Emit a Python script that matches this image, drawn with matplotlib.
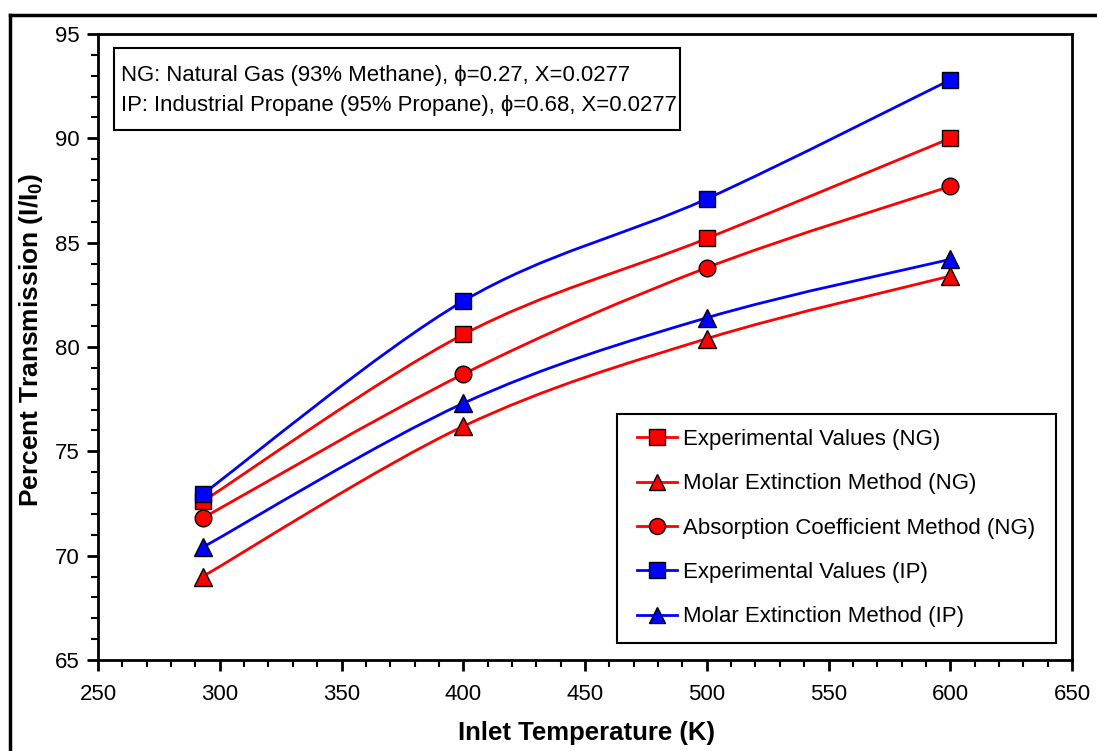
import matplotlib
matplotlib.use('Agg')
import matplotlib.pyplot as plt
from matplotlib.path import Path
from matplotlib.patches import PathPatch, Rectangle
from matplotlib.lines import Line2D
from matplotlib.ticker import MultipleLocator
import numpy as np

plt.rcParams['font.family'] = ['Liberation Sans', 'DejaVu Sans']
plt.rcParams['mathtext.fontset'] = 'custom'
plt.rcParams['mathtext.bf'] = 'Liberation Sans:bold'
plt.rcParams['mathtext.rm'] = 'Liberation Sans'

# ---- data ----
temps = [293, 400, 500, 600]
exp_ng = [72.6, 80.6, 85.2, 90.0]
molar_ng = [69.0, 76.2, 80.4, 83.4]
absorp_ng = [71.8, 78.7, 83.8, 87.7]
exp_ip = [72.95, 82.2, 87.1, 92.8]
molar_ip = [70.4, 77.3, 81.4, 84.2]

labels = ['Experimental Values (NG)', 'Molar Extinction Method (NG)',
          'Absorption Coefficient Method (NG)', 'Experimental Values (IP)',
          'Molar Extinction Method (IP)']
note_lines = ['NG: Natural Gas (93% Methane), \u03d5=0.27, X=0.0277',
              'IP: Industrial Propane (95% Propane), \u03d5=0.68, X=0.0277']

W, H = 1097, 751
fig = plt.figure(figsize=(W / 100, H / 100), dpi=100)
ax = fig.add_axes([98 / W, 1 - 660 / H, 974 / W, 626 / H])

RED = '#ff0000'
BLUE = '#0000ff'


def smooth_path(x, y):
    pts = np.column_stack([x, y]).astype(float)
    n = len(pts)
    verts = [pts[0]]
    codes = [Path.MOVETO]
    for i in range(n - 1):
        p0 = pts[i - 1] if i > 0 else pts[i]
        p1 = pts[i]
        p2 = pts[i + 1]
        p3 = pts[i + 2] if i + 2 < n else pts[i + 1]
        c1 = p1 + (p2 - p0) / 6.0
        c2 = p2 - (p3 - p1) / 6.0
        verts += [c1, c2, p2]
        codes += [Path.CURVE4] * 3
    return Path(verts, codes)


series = [
    (exp_ng, RED, 's', 12),
    (molar_ng, RED, '^', 12.5),
    (absorp_ng, RED, 'o', 12),
    (exp_ip, BLUE, 's', 12),
    (molar_ip, BLUE, '^', 12.5),
]

handles = []
for k, (vals, col, mk, ms) in enumerate(series):
    patch = PathPatch(smooth_path(temps, vals), facecolor='none', edgecolor=col,
                      lw=2.0, zorder=2 + k * 0.1)
    ax.add_patch(patch)
for k, (vals, col, mk, ms) in enumerate(series):
    ax.plot(temps, vals, linestyle='none', marker=mk, markersize=ms,
            markerfacecolor=col, markeredgecolor='black', markeredgewidth=1.0,
            zorder=4 + k * 0.1)
    handles.append(Line2D([], [], color=col, lw=2.0, marker=mk, markersize=ms - 0.5,
                          markerfacecolor=col, markeredgecolor='black',
                          markeredgewidth=1.0))

ax.set_xlim(250, 650)
ax.set_ylim(65, 95)
ax.xaxis.set_major_locator(MultipleLocator(50))
ax.xaxis.set_minor_locator(MultipleLocator(10))
ax.yaxis.set_major_locator(MultipleLocator(5))
ax.yaxis.set_minor_locator(MultipleLocator(1))
ax.tick_params(axis='both', which='major', direction='out', length=8, width=2,
               labelsize=16, colors='black', pad=5)
ax.tick_params(axis='x', which='major', pad=9)
ax.tick_params(axis='both', which='minor', direction='out', length=5, width=1.5)
for sp in ax.spines.values():
    sp.set_linewidth(2)

fig.text(587 / W, 1 - 733 / H, 'Inlet Temperature (K)', fontsize=18.5,
         fontweight='bold', ha='center', va='center')
fig.text(31 / W, 1 - 340 / H, r'Percent Transmission (I/I$_{\mathbf{0}}$)',
         fontsize=19, fontweight='bold', ha='center', va='center', rotation=90)

# legend (frame drawn separately)
ax.add_patch(Rectangle((617 / W, 1 - 643 / H), (1056 - 617) / W, (643 - 414) / H,
                       transform=fig.transFigure, facecolor='white',
                       edgecolor='black', lw=1.5, zorder=5, clip_on=False))
leg = ax.legend(handles, labels, loc='upper left',
                bbox_to_anchor=(637 / W, 1 - 429 / H), bbox_transform=fig.transFigure,
                borderaxespad=0, borderpad=0, fontsize=16, frameon=False,
                handlelength=1.8, handletextpad=0.28, labelspacing=1.05)
leg.set_zorder(6)

# annotation box
ax.add_patch(Rectangle((114 / W, 1 - 130 / H), (680 - 114) / W, 82 / H,
                       transform=fig.transFigure, facecolor='white',
                       edgecolor='black', lw=1.5, zorder=5, clip_on=False))
ax.text(121 / W, 1 - 75 / H, note_lines[0], fontsize=15.9, va='center', ha='left',
        zorder=6, transform=fig.transFigure)
ax.text(121 / W, 1 - 106 / H, note_lines[1], fontsize=15.9, va='center', ha='left',
        zorder=6, transform=fig.transFigure)

# outer frame (partially cropped)
fig.add_artist(Line2D([10 / W, 10 / W], [0, 1 - 15 / H], color='black', lw=2.5,
                      transform=fig.transFigure))
fig.add_artist(Line2D([10 / W, 1], [1 - 15 / H, 1 - 15 / H], color='black', lw=2.5,
                      transform=fig.transFigure))

fig.savefig('out.png', dpi=100)
